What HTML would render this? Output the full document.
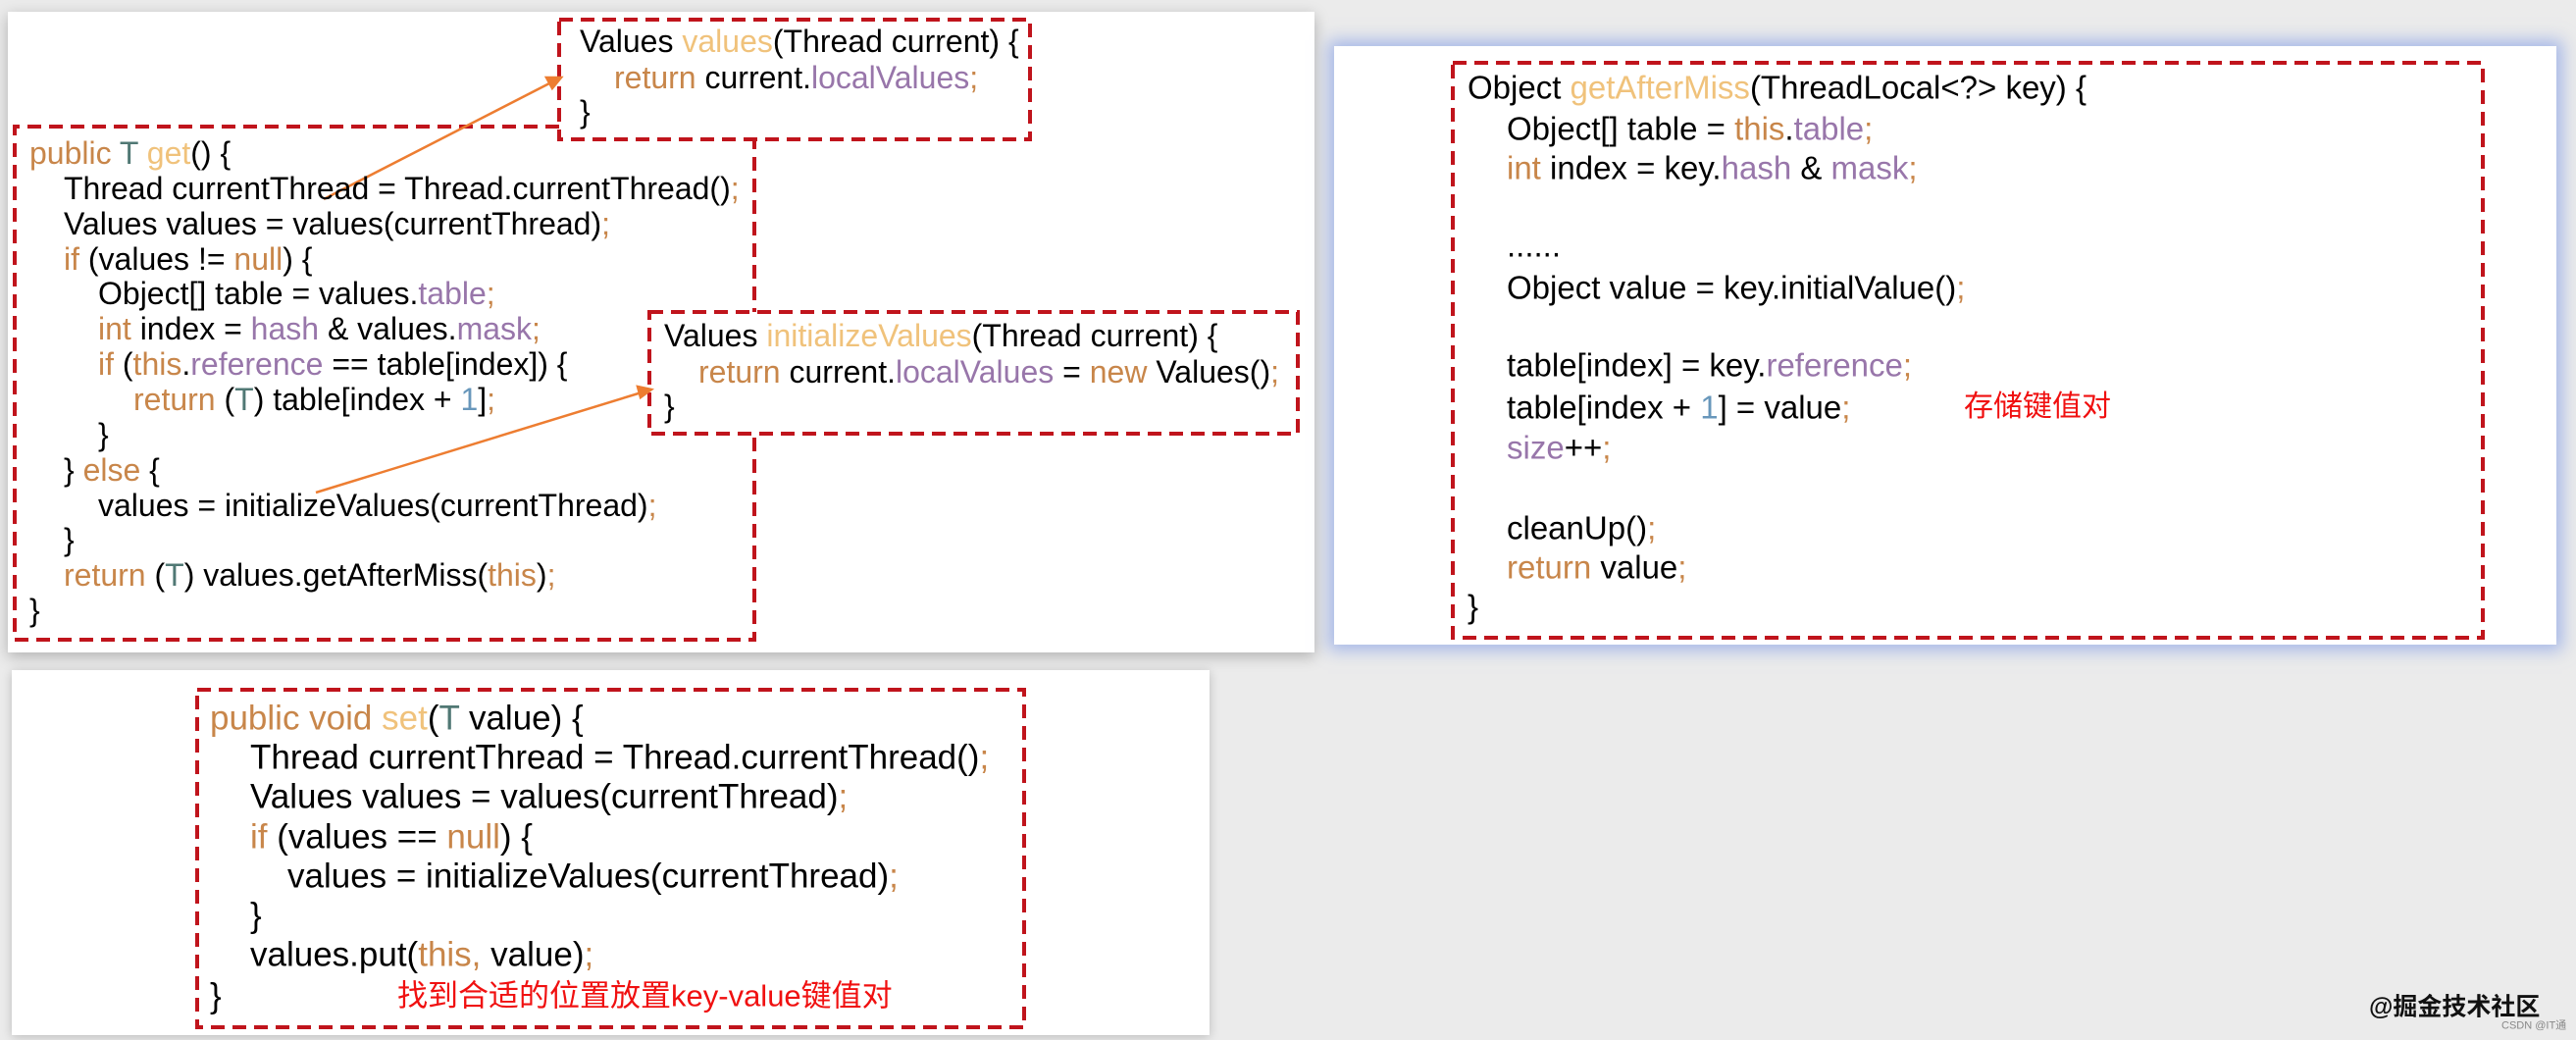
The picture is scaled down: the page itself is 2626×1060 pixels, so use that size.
<!DOCTYPE html>
<html><head><meta charset="utf-8"><style>
body{margin:0;width:2626px;height:1060px;background:#ebebeb;position:relative;overflow:hidden;font-family:"Liberation Sans","Noto Sans CJK SC",sans-serif;color:#000}
.p{position:absolute;background:#fff}
.l{position:absolute;white-space:pre;line-height:1;transform:translateY(-50%)}
.k{color:#c8864a}.m{color:#f0c27b}.f{color:#9876aa}.n{color:#6897bb}.t{color:#507874}.r{color:#f01010}
</style></head><body>
<div class="p" style="left:8px;top:12px;width:1332px;height:653px;box-shadow:0 4px 14px rgba(0,0,0,.25)"></div>
<div class="p" style="left:1360px;top:47px;width:1246px;height:610px;box-shadow:0 0 16px 6px rgba(120,150,230,.6)"></div>
<div class="p" style="left:12px;top:683px;width:1221px;height:372px;box-shadow:0 2px 10px rgba(0,0,0,.2)"></div>

<svg style="position:absolute;left:0;top:0" width="2626" height="1060">
<g fill="none" stroke="#c0141c" stroke-width="4" stroke-dasharray="14,8">
<polyline points="570,129 15,129 15,652 769,652 769,142"/>
<rect x="570" y="20" width="480" height="122" fill="#fff"/>
<rect x="662" y="318" width="661" height="124" fill="#fff"/>
<rect x="1481" y="64" width="1050" height="586"/>
<rect x="201" y="703" width="843" height="344"/>
</g>
<g stroke="#ed7d31" stroke-width="2.5" fill="#ed7d31">
<line x1="330" y1="203" x2="562" y2="84"/><polygon points="572,79 557,79 563,90"/>
<line x1="322" y1="502" x2="654" y2="400"/><polygon points="664,397 650,394 653,405"/>
</g>
</svg>

<div style="font-size:32px">
<div class="l" style="left:591px;top:42px">Values <span class="m">values</span>(Thread current) {</div>
<div class="l" style="left:626px;top:79px"><span class="k">return</span> current.<span class="f">localValues</span><span class="k">;</span></div>
<div class="l" style="left:591px;top:114px">}</div>

<div class="l" style="left:677px;top:342px">Values <span class="m">initializeValues</span>(Thread current) {</div>
<div class="l" style="left:712px;top:379px"><span class="k">return</span> current.<span class="f">localValues</span> = <span class="k">new</span> Values()<span class="k">;</span></div>
<div class="l" style="left:677px;top:414px">}</div>

<div class="l" style="left:30px;top:156px"><span class="k">public</span> <span class="t">T</span> <span class="m">get</span>() {</div>
<div class="l" style="left:65px;top:192px">Thread currentThread = Thread.currentThread()<span class="k">;</span></div>
<div class="l" style="left:65px;top:228px">Values values = values(currentThread)<span class="k">;</span></div>
<div class="l" style="left:65px;top:264px"><span class="k">if</span> (values != <span class="k">null</span>) {</div>
<div class="l" style="left:100px;top:299px">Object[] table = values.<span class="f">table</span><span class="k">;</span></div>
<div class="l" style="left:100px;top:335px"><span class="k">int</span> index = <span class="f">hash</span> &amp; values.<span class="f">mask</span><span class="k">;</span></div>
<div class="l" style="left:100px;top:371px"><span class="k">if</span> (<span class="k">this</span>.<span class="f">reference</span> == table[index]) {</div>
<div class="l" style="left:136px;top:407px"><span class="k">return</span> (<span class="t">T</span>) table[index + <span class="n">1</span>]<span class="k">;</span></div>
<div class="l" style="left:100px;top:443px">}</div>
<div class="l" style="left:65px;top:479px">} <span class="k">else</span> {</div>
<div class="l" style="left:100px;top:515px">values = initializeValues(currentThread)<span class="k">;</span></div>
<div class="l" style="left:65px;top:550px">}</div>
<div class="l" style="left:65px;top:586px"><span class="k">return</span> (<span class="t">T</span>) values.getAfterMiss(<span class="k">this</span>)<span class="k">;</span></div>
<div class="l" style="left:30px;top:622px">}</div>
</div>

<div style="font-size:33px">
<div class="l" style="left:1496px;top:89px">Object <span class="m">getAfterMiss</span>(ThreadLocal&lt;?&gt; key) {</div>
<div class="l" style="left:1536px;top:131px">Object[] table = <span class="k">this</span>.<span class="f">table</span><span class="k">;</span></div>
<div class="l" style="left:1536px;top:171px"><span class="k">int</span> index = key.<span class="f">hash</span> &amp; <span class="f">mask</span><span class="k">;</span></div>
<div class="l" style="left:1536px;top:250px">......</div>
<div class="l" style="left:1536px;top:293px">Object value = key.initialValue()<span class="k">;</span></div>
<div class="l" style="left:1536px;top:372px">table[index] = key.<span class="f">reference</span><span class="k">;</span></div>
<div class="l" style="left:1536px;top:415px">table[index + <span class="n">1</span>] = value<span class="k">;</span></div>
<div class="l r" style="left:2002px;top:415px;font-size:30px">存储键值对</div>
<div class="l" style="left:1536px;top:456px"><span class="f">size</span>++<span class="k">;</span></div>
<div class="l" style="left:1536px;top:538px">cleanUp()<span class="k">;</span></div>
<div class="l" style="left:1536px;top:578px"><span class="k">return</span> value<span class="k">;</span></div>
<div class="l" style="left:1496px;top:618px">}</div>
</div>

<div style="font-size:35px">
<div class="l" style="left:214px;top:732px"><span class="k">public void</span> <span class="m">set</span>(<span class="t">T</span> value) {</div>
<div class="l" style="left:255px;top:772px">Thread currentThread = Thread.currentThread()<span class="k">;</span></div>
<div class="l" style="left:255px;top:812px">Values values = values(currentThread)<span class="k">;</span></div>
<div class="l" style="left:255px;top:853px"><span class="k">if</span> (values == <span class="k">null</span>) {</div>
<div class="l" style="left:293px;top:893px">values = initializeValues(currentThread)<span class="k">;</span></div>
<div class="l" style="left:255px;top:933px">}</div>
<div class="l" style="left:255px;top:973px">values.put(<span class="k">this,</span> value)<span class="k">;</span></div>
<div class="l" style="left:214px;top:1015px">}</div>
<div class="l r" style="left:405px;top:1015px;font-size:31px">找到合适的位置放置key-value键值对</div>
</div>

<div class="l" style="left:2415px;top:1027px;font-size:25px;font-weight:bold;color:#111">@掘金技术社区</div>
<div class="l" style="left:2550px;top:1046px;font-size:11px;color:#888">CSDN @IT通</div>
</body></html>
